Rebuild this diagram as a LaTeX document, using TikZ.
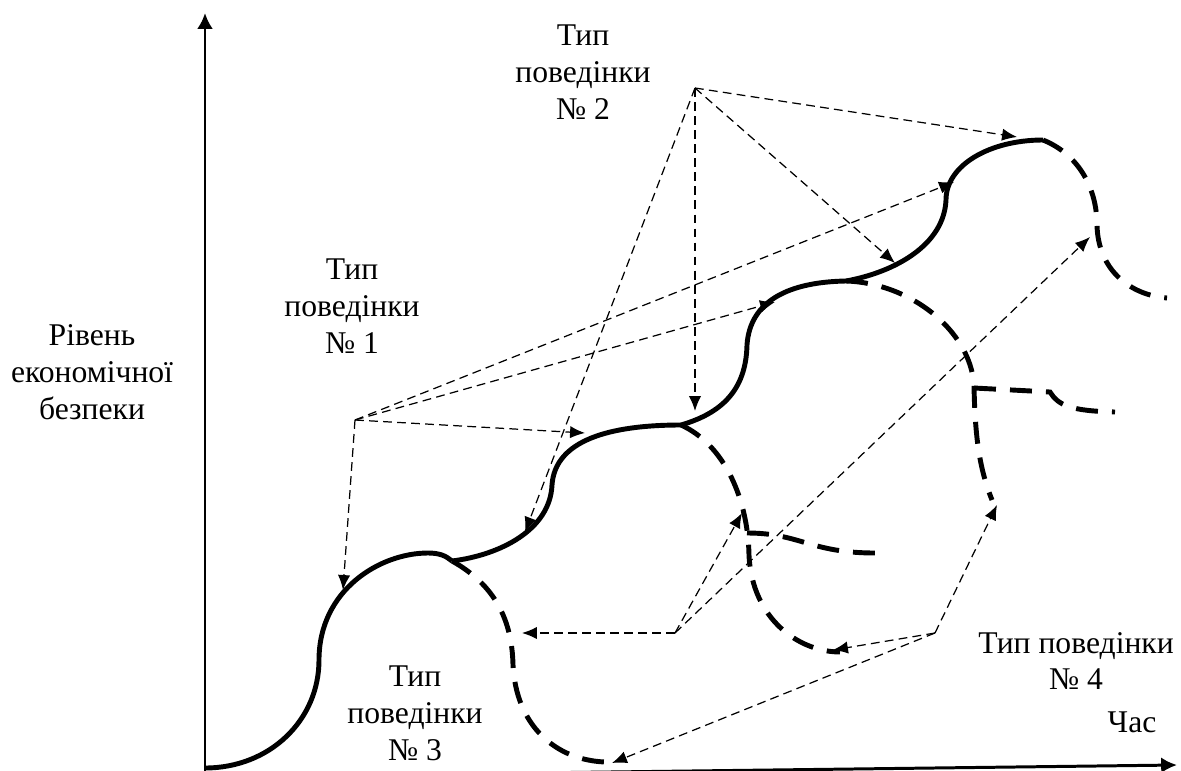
\documentclass[tikz,border=0pt]{standalone}
\usepackage{fontspec}
\setmainfont{Liberation Serif}
\usetikzlibrary{arrows.meta}

\begin{document}
\begin{tikzpicture}[x=0.02cm, y=-0.02cm,
        every node/.append style={font=\fontsize{18}{21}\selectfont, align=center},
        axis/.style={line width=1.7pt, -{Latex[length=9pt,width=9pt]}},
        growth/.style={line width=2.8pt},
        branch/.style={line width=2.8pt, dash pattern=on 12.5pt off 8pt},
        ptr/.style={line width=0.7pt, dash pattern=on 5pt off 3pt, -{Latex[length=8.5pt,width=7pt]}}]
        \useasboundingbox (0,0) rectangle (1181,771);

        \node (Y) at (92,372) {Рівень\\економічної\\безпеки};
        \node (X) at (1132,722) {Час};
        \node (T1) at (352,306) {Тип\\поведінки\\№ 1};
        \node (T2) at (583,72) {Тип\\поведінки\\№ 2};
        \node (T3) at (415,713) {Тип\\поведінки\\№ 3};
        \node (T4) at (1076,661) {Тип поведінки\\№ 4};

        \coordinate (O) at (205,777);
        \coordinate (yend) at (205,13);
        \coordinate (xend) at (1177,765);
        \draw [axis] (O) -- (yend);
        \draw [axis] (O) -- (xend);

        % points where the trend turns
        \coordinate (k0) at (205,768);
        \coordinate (k1) at (452,561);
        \coordinate (k2) at (681,425);
        \coordinate (k3) at (846,281);
        \coordinate (k4) at (1043,140);
        \coordinate (b1) at (747,533);
        \coordinate (b2) at (974,388);

        \draw [growth] (k0) .. controls (270,768) and (319,720) .. (319,660)
            .. controls (319,590) and (380,553) .. (428,553)
            .. controls (440,553) and (446,556) .. (k1);
        \draw [growth] (k1) .. controls (500,555) and (550,530) .. (552,485)
            .. controls (555,440) and (610,425) .. (k2);
        \draw [growth] (k2) .. controls (722,413) and (746,390) .. (747,345)
            .. controls (750,300) and (790,282) .. (k3);
        \draw [growth] (k3) .. controls (895,272) and (944,245) .. (946,200)
            .. controls (946,165) and (990,140) .. (k4);

        % dropping branches
        \draw [branch] (k1) .. controls (495,585) and (512,620) .. (513,665)
            .. controls (516,725) and (555,760) .. (605,762);
        \draw [branch] (k2) .. controls (725,445) and (748,500) .. (749,555)
            .. controls (752,620) and (800,652) .. (840,652);
        \draw [branch] (b1) .. controls (800,533) and (810,553) .. (875,553);
        \draw [branch] (k3) .. controls (910,283) and (970,330) .. (974,385)
            .. controls (975,440) and (980,470) .. (992,500);
        \draw [branch] (b2) -- (1050,392) .. controls (1058,405) and (1070,411) .. (1115,412);
        \draw [branch] (k4) .. controls (1080,155) and (1097,190) .. (1097,225)
            .. controls (1098,270) and (1130,295) .. (1167,298);

        % pointers
        \coordinate (s1) at (355,420);
        \coordinate (s2) at (695,88);
        \coordinate (s3) at (675,633);
        \coordinate (s4) at (935,633);
        \coordinate (a11) at (343,590);
        \coordinate (a12) at (585,433);
        \coordinate (a13) at (775,302);
        \coordinate (a14) at (954,182);
        \coordinate (a21) at (525,532);
        \coordinate (a22) at (695,411);
        \coordinate (a23) at (895,263);
        \coordinate (a24) at (1017,137);
        \coordinate (a31) at (522,633);
        \coordinate (a32) at (742,513);
        \coordinate (a33) at (1090,237);
        \coordinate (a41) at (833,650);
        \coordinate (a42) at (997,505);
        \coordinate (a43) at (612,763);

        \draw [ptr] (s1) -- (a11);
        \draw [ptr] (s1) -- (a12);
        \draw [ptr] (s1) -- (a13);
        \draw [ptr] (s1) -- (a14);
        \draw [ptr] (s2) -- (a21);
        \draw [ptr] (s2) -- (a22);
        \draw [ptr] (s2) -- (a23);
        \draw [ptr] (s2) -- (a24);
        \draw [ptr] (s3) -- (a31);
        \draw [ptr] (s3) -- (a32);
        \draw [ptr] (s3) -- (a33);
        \draw [ptr] (s4) -- (a41);
        \draw [ptr] (s4) -- (a42);
        \draw [ptr] (s4) -- (a43);
    \end{tikzpicture}
\end{document}
